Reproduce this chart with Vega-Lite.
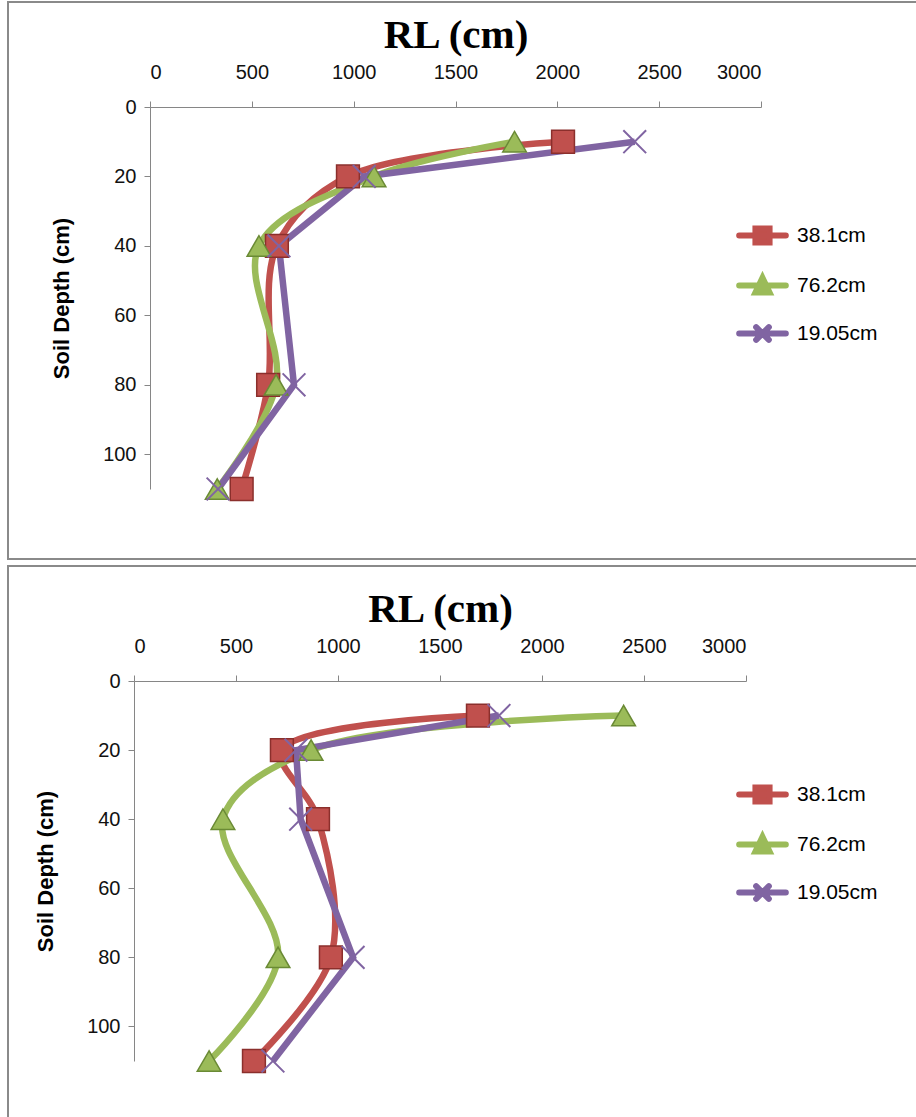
{
  "$schema": "https://vega.github.io/schema/vega-lite/v6.json",
  "padding": {"left": 7, "top": 1, "right": 0, "bottom": 0},
  "background": "white",
  "spacing": 5,
  "datasets": {
    "top": [
      {"series": "38.1cm", "depth": 10, "rl": 2028},
      {"series": "38.1cm", "depth": 20, "rl": 972},
      {"series": "38.1cm", "depth": 40, "rl": 623},
      {"series": "38.1cm", "depth": 80, "rl": 580},
      {"series": "38.1cm", "depth": 110, "rl": 450},
      {"series": "76.2cm", "depth": 10, "rl": 1790},
      {"series": "76.2cm", "depth": 20, "rl": 1100},
      {"series": "76.2cm", "depth": 40, "rl": 535},
      {"series": "76.2cm", "depth": 80, "rl": 619},
      {"series": "76.2cm", "depth": 110, "rl": 330},
      {"series": "19.05cm", "depth": 10, "rl": 2380},
      {"series": "19.05cm", "depth": 20, "rl": 1052},
      {"series": "19.05cm", "depth": 40, "rl": 633},
      {"series": "19.05cm", "depth": 80, "rl": 707},
      {"series": "19.05cm", "depth": 110, "rl": 334}
    ],
    "bottom": [
      {"series": "38.1cm", "depth": 10, "rl": 1686},
      {"series": "38.1cm", "depth": 20, "rl": 725},
      {"series": "38.1cm", "depth": 40, "rl": 902},
      {"series": "38.1cm", "depth": 80, "rl": 965},
      {"series": "38.1cm", "depth": 110, "rl": 588},
      {"series": "76.2cm", "depth": 10, "rl": 2400},
      {"series": "76.2cm", "depth": 20, "rl": 868},
      {"series": "76.2cm", "depth": 40, "rl": 436},
      {"series": "76.2cm", "depth": 80, "rl": 706},
      {"series": "76.2cm", "depth": 110, "rl": 368},
      {"series": "19.05cm", "depth": 10, "rl": 1789},
      {"series": "19.05cm", "depth": 20, "rl": 794},
      {"series": "19.05cm", "depth": 40, "rl": 817},
      {"series": "19.05cm", "depth": 80, "rl": 1074},
      {"series": "19.05cm", "depth": 110, "rl": 681}
    ]
  },
  "resolve": {"legend": {"color": "independent"}, "scale": {"x": "independent", "y": "independent"}},
  "vconcat": [
    {
      "width": 912,
      "height": 557,
      "data": {"name": "top"},
      "encoding": {
        "x": {"field": "rl", "type": "quantitative", "scale": {"domain": [0, 3000], "range": [142, 753], "nice": false, "zero": false},
          "axis": {"orient": "top", "offset": -105, "values": [0, 500, 1000, 1500, 2000, 2500, 3000], "format": "d", "title": "RL (cm)"}},
        "y": {"field": "depth", "type": "quantitative", "scale": {"domain": [0, 110], "range": [105, 487], "nice": false, "zero": false},
          "axis": {"orient": "left", "offset": -142, "values": [0, 20, 40, 60, 80, 100], "format": "d", "title": "Soil Depth (cm)"}},
        "color": {"field": "series", "type": "nominal", "scale": {"domain": ["38.1cm", "76.2cm", "19.05cm"], "range": ["#C0504D", "#9BBB59", "#8064A2"]},
          "legend": {"orient": "none", "legendX": 744, "legendY": 223,
            "encode": {"symbols": {"update": {
              "shape": {"signal": "datum.value === '38.1cm' ? 'M-3.3,0H3.3M-1,-1H1V1H-1Z' : datum.value === '76.2cm' ? 'M-3.3,0H3.3M0,-1.1L1,1H-1Z' : 'M-3.3,0H3.3M-0.9,-0.9L0.9,0.9M-0.9,0.9L0.9,-0.9'"},
              "stroke": {"scale": "color", "field": "value"},
              "fill": {"scale": "color", "field": "value"},
              "strokeWidth": {"value": 6},
              "strokeCap": {"value": "round"}}}}}}
      },
      "layer": [
        {"transform": [{"filter": "datum.series !== '19.05cm'"}], "mark": {"type": "line", "interpolate": "catmull-rom", "strokeWidth": 6.5}, "encoding": {"order": {"field": "depth", "type": "quantitative"}}},
        {"transform": [{"filter": "datum.series === '19.05cm'"}], "mark": {"type": "line", "strokeWidth": 6.5}, "encoding": {"order": {"field": "depth", "type": "quantitative"}}},
        {"transform": [{"filter": "datum.series === '38.1cm'"}], "mark": {"type": "point", "shape": "square", "filled": true, "size": 520, "opacity": 1, "stroke": "#8B2F2C", "strokeWidth": 1.5}},
        {"transform": [{"filter": "datum.series === '76.2cm'"}], "mark": {"type": "point", "shape": "triangle-up", "filled": true, "size": 560, "opacity": 1, "stroke": "#6A8A35", "strokeWidth": 1.5}},
        {"transform": [{"filter": "datum.series === '19.05cm'"}], "mark": {"type": "point", "shape": "M-1,-1L1,1M-1,1L1,-1", "filled": false, "size": 520, "opacity": 1, "strokeWidth": 2}}
      ]
    },
    {
      "width": 912,
      "height": 552,
      "data": {"name": "bottom"},
      "encoding": {
        "x": {"field": "rl", "type": "quantitative", "scale": {"domain": [0, 3000], "range": [126, 738], "nice": false, "zero": false},
          "axis": {"orient": "top", "offset": -115, "values": [0, 500, 1000, 1500, 2000, 2500, 3000], "format": "d", "title": "RL (cm)"}},
        "y": {"field": "depth", "type": "quantitative", "scale": {"domain": [0, 110], "range": [115, 495], "nice": false, "zero": false},
          "axis": {"orient": "left", "offset": -126, "values": [0, 20, 40, 60, 80, 100], "format": "d", "title": "Soil Depth (cm)"}},
        "color": {"field": "series", "type": "nominal", "scale": {"domain": ["38.1cm", "76.2cm", "19.05cm"], "range": ["#C0504D", "#9BBB59", "#8064A2"]},
          "legend": {"orient": "none", "legendX": 744, "legendY": 218,
            "encode": {"symbols": {"update": {
              "shape": {"signal": "datum.value === '38.1cm' ? 'M-3.3,0H3.3M-1,-1H1V1H-1Z' : datum.value === '76.2cm' ? 'M-3.3,0H3.3M0,-1.1L1,1H-1Z' : 'M-3.3,0H3.3M-0.9,-0.9L0.9,0.9M-0.9,0.9L0.9,-0.9'"},
              "stroke": {"scale": "color", "field": "value"},
              "fill": {"scale": "color", "field": "value"},
              "strokeWidth": {"value": 6},
              "strokeCap": {"value": "round"}}}}}}
      },
      "layer": [
        {"transform": [{"filter": "datum.series !== '19.05cm'"}], "mark": {"type": "line", "interpolate": "catmull-rom", "strokeWidth": 6.5}, "encoding": {"order": {"field": "depth", "type": "quantitative"}}},
        {"transform": [{"filter": "datum.series === '19.05cm'"}], "mark": {"type": "line", "strokeWidth": 6.5}, "encoding": {"order": {"field": "depth", "type": "quantitative"}}},
        {"transform": [{"filter": "datum.series === '38.1cm'"}], "mark": {"type": "point", "shape": "square", "filled": true, "size": 520, "opacity": 1, "stroke": "#8B2F2C", "strokeWidth": 1.5}},
        {"transform": [{"filter": "datum.series === '76.2cm'"}], "mark": {"type": "point", "shape": "triangle-up", "filled": true, "size": 560, "opacity": 1, "stroke": "#6A8A35", "strokeWidth": 1.5}},
        {"transform": [{"filter": "datum.series === '19.05cm'"}], "mark": {"type": "point", "shape": "M-1,-1L1,1M-1,1L1,-1", "filled": false, "size": 520, "opacity": 1, "strokeWidth": 2}}
      ]
    }
  ],
  "config": {
    "view": {"stroke": "#8a8a8a", "strokeWidth": 2},
    "axis": {"grid": false, "domainColor": "#868686", "tickColor": "#868686", "tickSize": 6, "domainWidth": 1, "tickWidth": 1,
      "labelFont": "Liberation Sans", "labelFontSize": 20, "labelColor": "#111"},
    "axisX": {"titleFont": "Liberation Serif", "titleFontSize": 41, "titleFontWeight": "bold", "titleColor": "#000", "labelPadding": 19, "titlePadding": 6},
    "axisY": {"titleFont": "Liberation Sans", "titleFontSize": 22, "titleFontWeight": "bold", "titleColor": "#000", "labelPadding": 8, "titlePadding": 29},
    "legend": {"title": null, "labelFont": "Liberation Sans", "labelFontSize": 21, "labelColor": "#000", "symbolSize": 200, "symbolStrokeWidth": 6, "rowPadding": 10, "padding": 0, "labelOffset": 24}
  }
}
